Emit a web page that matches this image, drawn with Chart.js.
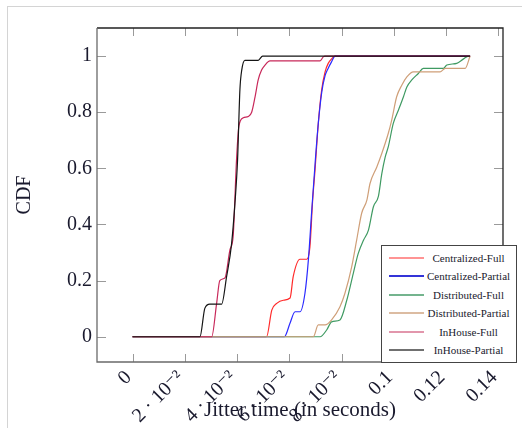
<!DOCTYPE html>
<html>
<head>
    <title>Jitter CDF</title>
    <script src="https://cdn.jsdelivr.net/npm/chart.js"></script>
    <style>
        body { margin: 0; background: #fff; }
        .frame {
            position: absolute; left: 7px; top: 6px; right: 0; bottom: 0;
            border-top: 1px solid #d4d4d4; border-left: 1px solid #d4d4d4;
        }
        .chart-container { position: absolute; left: 0; top: 0; width: 522px; height: 428px; }
        #legend {
            position: absolute; left: 381px; top: 245px; width: 134px; height: 116px;
            border: 1px solid #444; background: #fff;
            font-family: "Liberation Serif", "DejaVu Serif", serif; font-size: 11px; color: #1a1a2e;
        }
        #legend .row { position: absolute; left: 0; width: 134px; height: 14px; }
        #legend .line { position: absolute; left: 7px; top: 6px; width: 35px; height: 2px; }
        #legend .txt { position: absolute; left: 45px; width: 83px; top: 0; line-height: 14px; text-align: center; white-space: nowrap; }
    </style>
</head>
<body>
    <div class="frame"></div>
    <div class="chart-container">
        <canvas id="chart1"></canvas>
    </div>
    <div id="legend"></div>

    <script>
        const names = ['Centralized-Full', 'Centralized-Partial', 'Distributed-Full',
            'Distributed-Partial', 'InHouse-Full', 'InHouse-Partial'];
        const colors = ['#ff2a2a', '#2a2aff', '#3f9a62', '#cf9f78', '#c8285a', '#151515'];
        const legendColors = ['#ff9494', '#3434d8', '#74b48e', '#dcbca2', '#e296ac', '#707070'];

        // x tick positions and their labels
        const xTicks = [0, 0.02, 0.04, 0.06, 0.08, 0.1, 0.12, 0.14];
        const xLabels = ['0', '2 \u00b7 10\u207b\u00b2', '4 \u00b7 10\u207b\u00b2', '6 \u00b7 10\u207b\u00b2',
            '8 \u00b7 10\u207b\u00b2', '0.1', '0.12', '0.14'];
        const yTicks = [0, 0.2, 0.4, 0.6, 0.8, 1];
        const yLabels = ['0', '0.2', '0.4', '0.6', '0.8', '1'];

        // Centralized-Full
        const cfX = [0, 0.0513, 0.0533, 0.0552, 0.0577, 0.0603, 0.0615, 0.0641, 0.0667, 0.0679, 0.0689,
            0.0699, 0.0711, 0.0724, 0.0737, 0.0749, 0.0762, 0.0775, 0.1292];
        const cfY = [0, 0, 0.095, 0.119, 0.13, 0.138, 0.214, 0.276, 0.276, 0.32, 0.48,
            0.6, 0.76, 0.88, 0.944, 0.974, 0.99, 1, 1];

        // Centralized-Partial
        const cpX = [0, 0.0581, 0.0603, 0.0622, 0.0641, 0.0660, 0.0673, 0.0686, 0.0699, 0.0711, 0.0724,
            0.0737, 0.0749, 0.0762, 0.0775, 0.1292];
        const cpY = [0, 0, 0.049, 0.089, 0.089, 0.155, 0.273, 0.45, 0.62, 0.76, 0.87,
            0.93, 0.957, 0.98, 1, 1];

        // Distributed-Full
        const dfX = [0, 0.0718, 0.0743, 0.0762, 0.0794, 0.0820, 0.0845, 0.0864, 0.0884, 0.0903, 0.0922,
            0.0941, 0.0954, 0.0967, 0.0979, 0.0998, 0.1018, 0.1037, 0.1050, 0.1069, 0.1094, 0.1113,
            0.1190, 0.1203, 0.1241, 0.1267, 0.1286, 0.1292];
        const dfY = [0, 0, 0.024, 0.053, 0.06, 0.13, 0.226, 0.297, 0.344, 0.38, 0.463,
            0.5, 0.58, 0.64, 0.677, 0.76, 0.808, 0.855, 0.89, 0.915, 0.938, 0.956,
            0.956, 0.968, 0.974, 0.99, 1, 1];

        // Distributed-Partial
        const dpX = [0, 0.0692, 0.0711, 0.0737, 0.0762, 0.0794, 0.0813, 0.0839, 0.0858, 0.0877, 0.0897,
            0.0909, 0.0935, 0.0954, 0.0979, 0.0992, 0.1011, 0.1031, 0.1050, 0.1075, 0.1177, 0.1197,
            0.1273, 0.1292];
        const dpY = [0, 0, 0.042, 0.042, 0.06, 0.107, 0.155, 0.25, 0.345, 0.44, 0.487,
            0.546, 0.605, 0.653, 0.725, 0.772, 0.855, 0.897, 0.926, 0.944, 0.944, 0.956,
            0.956, 1];

        // InHouse-Full
        const ifX = [0, 0.0303, 0.0322, 0.0334, 0.0354, 0.0373, 0.0385, 0.0398, 0.0407, 0.0424, 0.0443,
            0.0456, 0.0469, 0.0481, 0.0494, 0.0507, 0.0526, 0.0718, 0.0730, 0.0737, 0.1292];
        const ifY = [0, 0, 0.12, 0.2, 0.21, 0.31, 0.356, 0.63, 0.75, 0.78, 0.785,
            0.8, 0.855, 0.915, 0.95, 0.968, 0.983, 0.983, 0.997, 1, 1];

        // InHouse-Partial
        const ipX = [0, 0.0258, 0.0277, 0.0296, 0.0341, 0.0360, 0.0379, 0.0392, 0.0402, 0.0411, 0.0418,
            0.0430, 0.0481, 0.0498, 0.1292];
        const ipY = [0, 0, 0.102, 0.116, 0.116, 0.214, 0.33, 0.476, 0.63, 0.88, 0.95,
            0.985, 0.985, 1, 1];

        const seriesX = [cfX, cpX, dfX, dpX, ifX, ipX];
        const seriesY = [cfY, cpY, dfY, dpY, ifY, ipY];

        const textColor = '#1a1a2e';
        const serif = '"Liberation Serif", "DejaVu Serif", serif';

        // legend box
        const legend = document.getElementById('legend');
        names.forEach((name, i) => {
            const row = document.createElement('div');
            row.className = 'row';
            row.style.top = (5 + i * 18.4) + 'px';
            const line = document.createElement('div');
            line.className = 'line';
            line.style.backgroundColor = legendColors[i];
            const txt = document.createElement('div');
            txt.className = 'txt';
            txt.textContent = name;
            row.appendChild(line);
            row.appendChild(txt);
            legend.appendChild(row);
        });

        // frame and inward tick marks, pgfplots style
        const framePlugin = {
            id: 'frame',
            afterDatasetsDraw(chart) {
                const { ctx, chartArea: a, scales } = chart;
                ctx.save();
                ctx.lineWidth = 1;
                ctx.strokeStyle = '#9a9a9a';
                ctx.beginPath();
                xTicks.forEach(v => {
                    const px = Math.round(scales.x.getPixelForValue(v)) + 0.5;
                    ctx.moveTo(px, a.bottom); ctx.lineTo(px, a.bottom - 8);
                    ctx.moveTo(px, a.top); ctx.lineTo(px, a.top + 8);
                });
                yTicks.forEach(v => {
                    const py = Math.round(scales.y.getPixelForValue(v)) + 0.5;
                    ctx.moveTo(a.left, py); ctx.lineTo(a.left + 9, py);
                    ctx.moveTo(a.right, py); ctx.lineTo(a.right - 9, py);
                });
                ctx.stroke();
                ctx.lineWidth = 1.3;
                ctx.strokeStyle = '#222';
                ctx.beginPath();
                ctx.moveTo(a.left, a.top); ctx.lineTo(a.right, a.top); ctx.lineTo(a.right, a.bottom);
                ctx.stroke();
                ctx.strokeStyle = '#6a6a6a';
                ctx.beginPath();
                ctx.moveTo(a.left, a.top); ctx.lineTo(a.left, a.bottom); ctx.lineTo(a.right, a.bottom);
                ctx.stroke();
                ctx.restore();
            }
        };

        new Chart(document.getElementById('chart1'), {
            type: 'line',
            data: {
                datasets: names.map((name, i) => ({
                    label: name,
                    data: seriesX[i].map((x, j) => ({ x: x, y: seriesY[i][j] })),
                    borderColor: colors[i],
                    borderWidth: 1.2,
                    pointRadius: 0,
                    cubicInterpolationMode: 'monotone',
                    fill: false,
                    order: 5 - i
                }))
            },
            options: {
                responsive: true,
                maintainAspectRatio: false,
                animation: false,
                layout: { padding: { top: 28, right: 19, left: 0, bottom: 0 } },
                plugins: { legend: { display: false }, tooltip: { enabled: false } },
                scales: {
                    x: {
                        type: 'linear',
                        min: -0.0136,
                        max: 0.1418,
                        grid: { display: false, drawTicks: false },
                        border: { display: false },
                        afterBuildTicks: s => { s.ticks = xTicks.map(v => ({ value: v })); },
                        afterFit: s => { s.height = 66; },
                        ticks: {
                            autoSkip: false,
                            minRotation: 45,
                            maxRotation: 45,
                            padding: 4,
                            labelOffset: -4,
                            color: textColor,
                            font: { family: serif, size: 20 },
                            callback: (v, i) => xLabels[i]
                        },
                        title: {
                            display: true,
                            text: 'Jitter time (in seconds)',
                            color: textColor,
                            font: { family: serif, size: 21 },
                            padding: { top: 0, bottom: 5 }
                        }
                    },
                    y: {
                        min: -0.09,
                        max: 1.1,
                        grid: { display: false, drawTicks: false },
                        border: { display: false },
                        afterBuildTicks: s => { s.ticks = yTicks.map(v => ({ value: v })); },
                        afterFit: s => { s.width = 97; },
                        ticks: {
                            padding: 5,
                            color: textColor,
                            font: { family: serif, size: 20 },
                            callback: (v, i) => yLabels[i]
                        },
                        title: {
                            display: true,
                            text: 'CDF',
                            color: textColor,
                            font: { family: serif, size: 20 },
                            padding: { top: 13, bottom: 0 }
                        }
                    }
                }
            },
            plugins: [framePlugin]
        });
    </script>
</body>
</html>
